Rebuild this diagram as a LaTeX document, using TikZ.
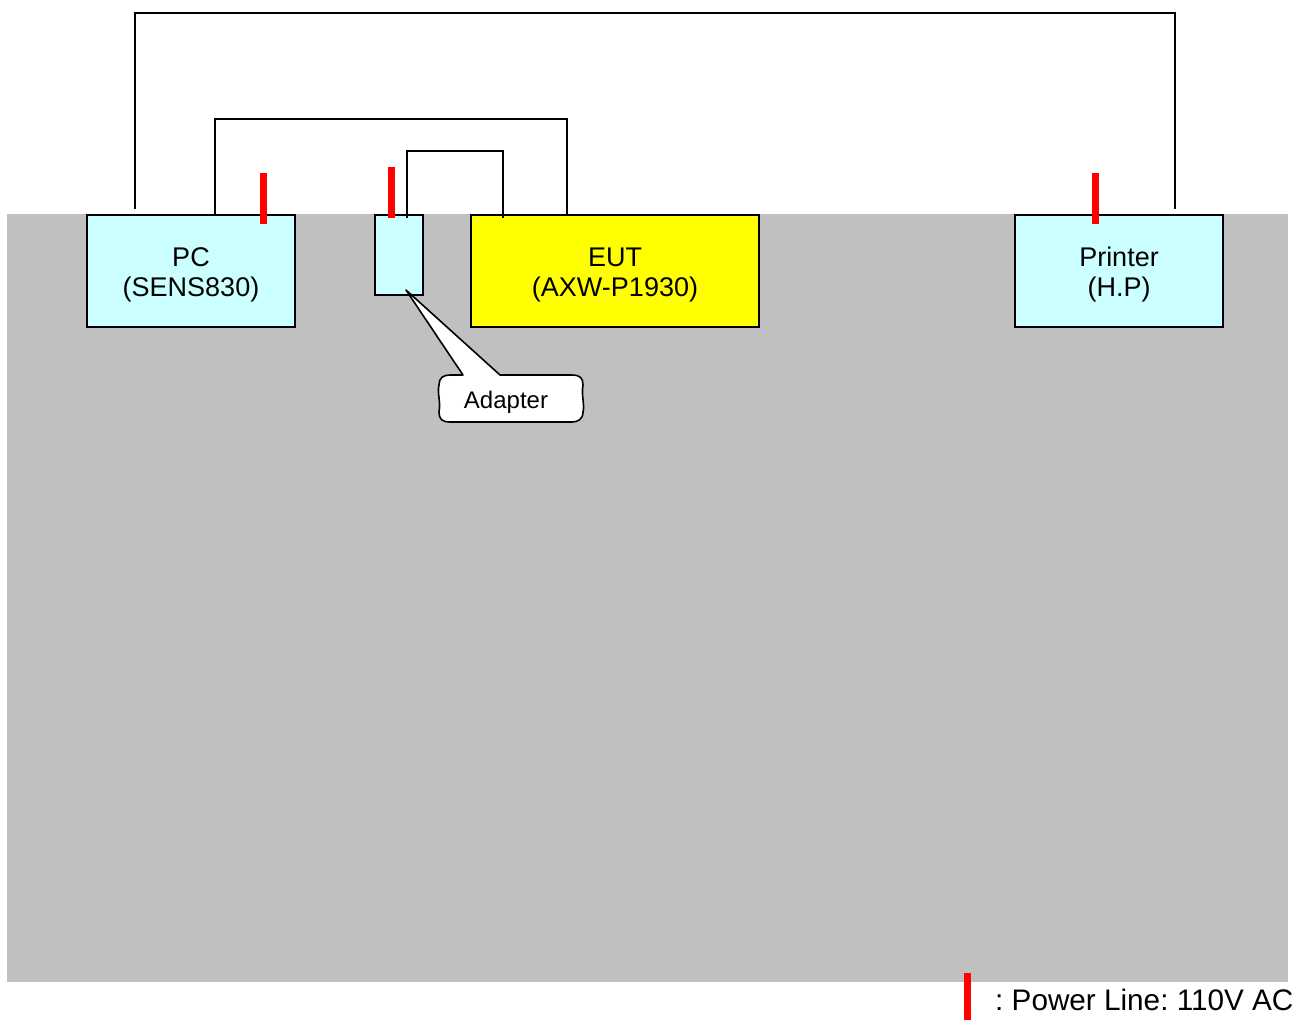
\documentclass[tikz,border=0pt]{standalone}
\usepackage{fontspec}
\setmainfont{Liberation Sans}
\begin{document}
\begin{tikzpicture}[x=1pt,y=-1pt,
  box/.style={draw=black,line width=1.8pt,inner sep=0pt},
  boxtext/.style={inner sep=0pt,align=center,font=\fontsize{27}{30}\selectfont},
  cable/.style={draw=black,line width=1.6pt},
  power/.style={draw=red,line width=7pt}]
\frenchspacing
\useasboundingbox (0,0) rectangle (1305,1021);
\definecolor{lcyan}{HTML}{CCFFFF}
\definecolor{lgray}{HTML}{C0C0C0}
\definecolor{pyellow}{HTML}{FFFF00}
\definecolor{pred}{HTML}{FF0000}
\fill[lgray] (7,214) rectangle (1288,982);
% cables
\coordinate (c1a) at (135,209);
\coordinate (c1t) at (135,13);
\coordinate (c1b) at (1175,209);
\coordinate (c2a) at (215,215);
\coordinate (c2t) at (215,119);
\coordinate (c2b) at (567,218);
\coordinate (c3a) at (407,218);
\coordinate (c3t) at (407,151);
\coordinate (c3b) at (503,218);
\draw[cable] (c1a) -- (c1t) -| (c1b);
\draw[cable] (c2a) -- (c2t) -| (c2b);
% boxes
\node[box,fill=lcyan,minimum width=208pt,minimum height=112pt] (pc) at (191,271) {};
\node[boxtext] (pctext) at (191,275) {PC\\(SENS830)};
\node[box,fill=lcyan,minimum width=48pt,minimum height=80pt] (adp) at (399,255) {};
\node[box,fill=pyellow,minimum width=288pt,minimum height=112pt] (eut) at (615,271) {};
\node[boxtext] (euttext) at (615,275) {EUT\\(AXW-P1930)};
\node[box,fill=lcyan,minimum width=208pt,minimum height=112pt] (prn) at (1119,271) {};
\node[boxtext] (prntext) at (1119,275) {Printer\\(H.P)};
\draw[cable] (c3a) -- (c3t) -| (c3b);
% power lines
\draw[power,draw=pred] (263,173) -- (263,224);
\draw[power,draw=pred] (391,167) -- (391,218);
\draw[power,draw=pred] (1095,173) -- (1095,224);
\draw[power,draw=pred] (967,973) -- (967,1020);
% callout
\coordinate (tip) at (406,290);
\draw[fill=white,line width=1.6pt,line join=round] (450,375) -- (463,375) -- (tip) -- (500,375) -- (572,375)
  .. controls (580,375) and (583,378) .. (583,385)
  .. controls (581,395) and (585,405) .. (583,412)
  .. controls (583,419) and (578,422) .. (572,422) -- (450,422)
  .. controls (442,422) and (439,419) .. (439,412)
  .. controls (441,402) and (437,393) .. (439,385)
  .. controls (439,378) and (443,375) .. (450,375) -- cycle;
\node[font=\fontsize{24}{28}\selectfont] (adlabel) at (506,402) {Adapter};
% legend
\node[anchor=west,font=\fontsize{29.7}{32}\selectfont,inner sep=0pt] (legend) at (995,1000) {: Power Line: 110V AC};
\end{tikzpicture}
\end{document}
